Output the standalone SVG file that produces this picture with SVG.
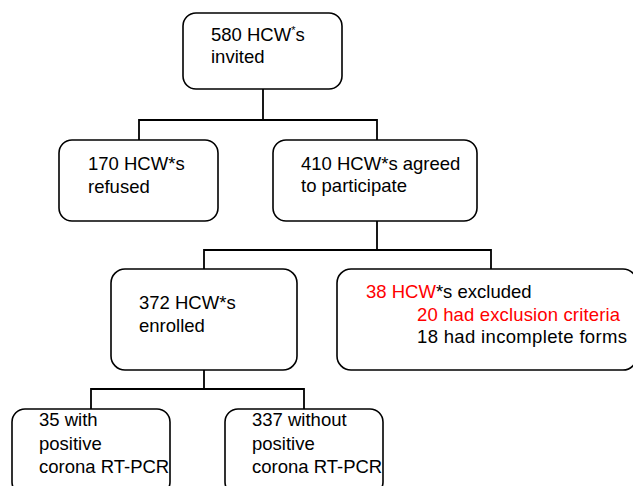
<svg xmlns="http://www.w3.org/2000/svg" width="633" height="486" viewBox="0 0 633 486">
<style>
.box{fill:#ffffff;stroke:#000000;stroke-width:1.6}
.ln{fill:none;stroke:#000000;stroke-width:1.8}
text{font-family:"Liberation Sans",Arial,sans-serif;font-size:18.5px;fill:#000000}
.red{fill:#ff0000}
</style>
<rect width="633" height="486" fill="#ffffff"/>
<g id="connectors">
<path class="ln" d="M263 89V120M139 140V120H377V140"/>
<path class="ln" d="M377 221V250M204 270V250H491V270"/>
<path class="ln" d="M204 370V389M91 409V389H304V409"/>
</g>
<g id="n580">
<rect class="box" x="183" y="13" width="159" height="76" rx="13"/>
<text x="211" y="41">580 HCW<tspan font-size="11" dy="-7">*</tspan><tspan dy="7">s</tspan></text>
<text x="211" y="63">invited</text>
</g>
<g id="n170">
<rect class="box" x="59" y="140" width="159" height="81" rx="13"/>
<text x="88" y="170">170 HCW*s</text>
<text x="88" y="193">refused</text>
</g>
<g id="n410">
<rect class="box" x="273" y="140" width="204" height="81" rx="13"/>
<text x="301" y="170">410 HCW*s agreed</text>
<text x="301" y="192">to participate</text>
</g>
<g id="n372">
<rect class="box" x="111" y="269" width="186" height="101" rx="14"/>
<text x="139" y="309">372 HCW*s</text>
<text x="139" y="332">enrolled</text>
</g>
<g id="n38">
<rect class="box" x="337" y="269" width="300" height="101" rx="14"/>
<text x="366" y="298"><tspan class="red">38 HCW</tspan>*s excluded</text>
<text x="417" y="321" class="red" textLength="203">20 had exclusion criteria</text>
<text x="417" y="343" textLength="210">18 had incomplete forms</text>
</g>
<g id="n35">
<rect class="box" x="12" y="409" width="158" height="86" rx="13"/>
<text x="39" y="426">35 with</text>
<text x="39" y="450">positive</text>
<text x="39" y="473">corona RT-PCR</text>
</g>
<g id="n337">
<rect class="box" x="225" y="409" width="158" height="86" rx="13"/>
<text x="252" y="426">337 without</text>
<text x="252" y="450">positive</text>
<text x="252" y="473">corona RT-PCR</text>
</g>
</svg>
